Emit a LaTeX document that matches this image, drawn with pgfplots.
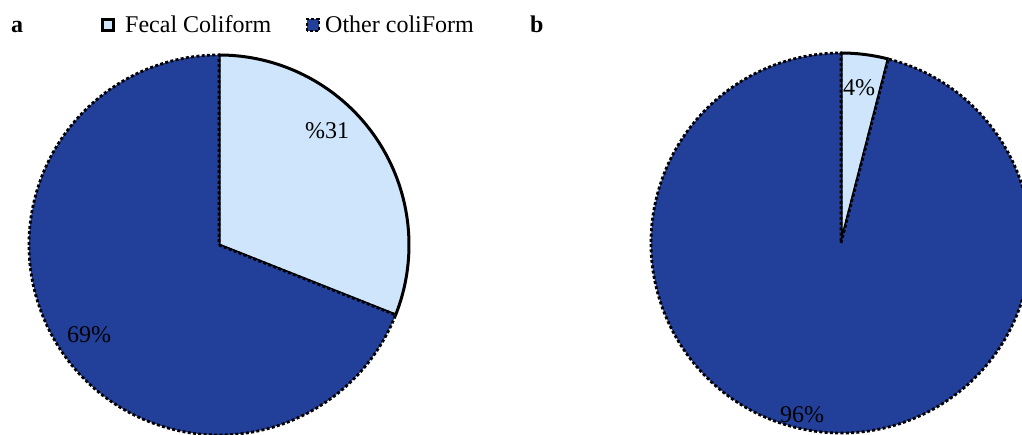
\documentclass[border=0pt]{standalone}
\usepackage{pgfplots}
\usepackage{pgfplotstable}
\pgfplotsset{compat=1.18}
\usepackage{fontspec}
\setmainfont{Liberation Serif}
\definecolor{fecal}{HTML}{CFE5FB}
\definecolor{other}{HTML}{22409A}

% panel, centre (x, y), share of fecal coliform (%)
\pgfplotstableread{
panel cx  cy  fecal other
a     219 190 31    69
b     841 192 4     96
}\piedata

\tikzset{
  fecalslice/.style={fill=fecal, draw=black, line width=3pt, line join=round},
  otherslice/.style={fill=other, draw=black, line width=2.8pt, dash pattern=on 3pt off 2.3pt},
  lab/.style={font=\fontsize{24}{28}\selectfont, inner sep=0pt, anchor=base west},
}

% axis commands are deferred, so expand the values now
\newcommand{\drawpie}[1]{%
  \pgfplotstablegetelem{#1}{cx}\of\piedata \let\cx\pgfplotsretval
  \pgfplotstablegetelem{#1}{cy}\of\piedata \let\cy\pgfplotsretval
  \pgfplotstablegetelem{#1}{fecal}\of\piedata \let\fv\pgfplotsretval
  \pgfmathsetmacro\ang{90-3.6*\fv}%
  \edef\temp{%
    \noexpand\filldraw[fecalslice] (axis cs:\cx,\cy) -- ++(90:190pt)
      arc[start angle=90, end angle=\ang, radius=190pt] -- cycle;
    \noexpand\filldraw[otherslice] (axis cs:\cx,\cy) -- ++(\ang:190pt)
      arc[start angle=\ang, end angle=-270, radius=190pt] -- cycle;
  }\temp
}

\begin{document}
\begin{tikzpicture}
\begin{axis}[
    x=1pt, y=1pt,
    xmin=0, xmax=1022, ymin=0, ymax=435,
    scale only axis,
    hide axis,
    clip=true,
  ]
  \path (axis cs:0,0) rectangle (axis cs:1022,435);
  \drawpie{0}
  \drawpie{1}

  % labels
  \node[lab, font=\fontsize{24}{28}\selectfont\bfseries] at (axis cs:11,402) {a};
  \node[lab, font=\fontsize{24}{28}\selectfont\bfseries] at (axis cs:530,402) {b};
  \node[lab] at (axis cs:305,296) {\%31};
  \node[lab] at (axis cs:67,92) {69\%};
  \node[lab] at (axis cs:843,339) {4\%};
  \node[lab] at (axis cs:780,12) {96\%};

  % legend
  \filldraw[fill=fecal, draw=black, line width=3pt]
    (axis cs:102,404) rectangle (axis cs:113,415);
  \node[lab] at (axis cs:125,402) {Fecal Coliform};
  \filldraw[fill=other, draw=black, line width=2.8pt, dash pattern=on 3pt off 2.3pt]
    (axis cs:307,404) rectangle (axis cs:319,416);
  \node[lab] at (axis cs:325,402) {Other coliForm};
\end{axis}
\end{tikzpicture}
\end{document}
